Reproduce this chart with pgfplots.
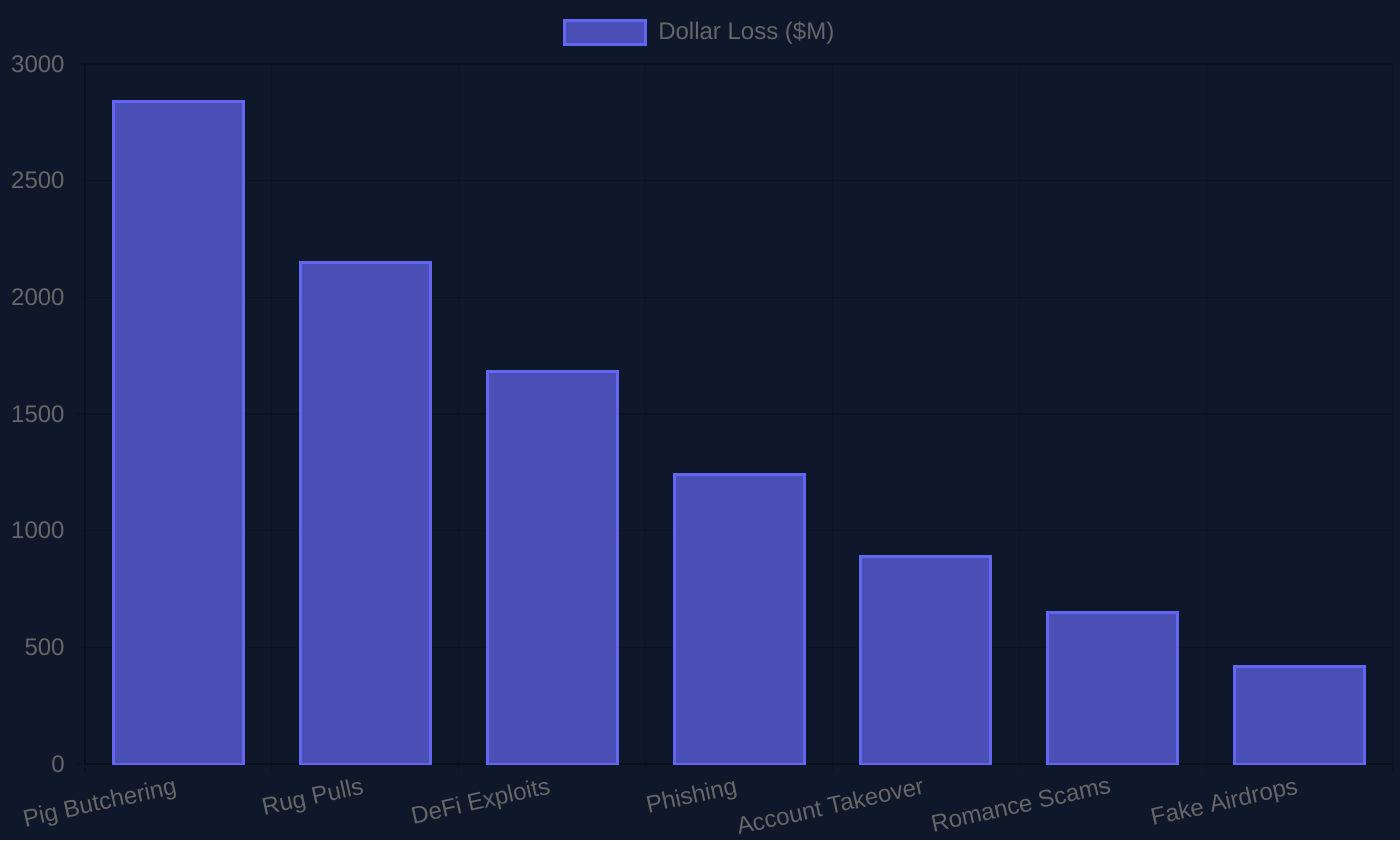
\documentclass[border=0pt]{standalone}
\usepackage{fontspec}
\setmainfont{Liberation Sans}
\usepackage{pgfplots}
\pgfplotsset{compat=1.18}

\definecolor{bg}{RGB}{15,23,42}
\definecolor{barfill}{RGB}{74,78,181}
\definecolor{barline}{RGB}{99,102,241}
\definecolor{txt}{RGB}{102,102,102}
\definecolor{gridc}{RGB}{12,19,35}
\definecolor{axisc}{RGB}{9,14,27}

\begin{document}
\begin{tikzpicture}
\fill[bg] (0,0) rectangle (700pt,420pt);
\useasboundingbox (0,0) rectangle (700pt,420pt);
\begin{axis}[
    at={(42.5pt,38pt)},
    anchor=south west,
    scale only axis,
    width=654pt,
    height=350pt,
    xmin=-0.5, xmax=6.5,
    ymin=0, ymax=3000,
    ybar,
    bar width=65pt,
    axis x line*=bottom,
    axis y line*=left,
    axis line style={-, draw=axisc, line width=0.6pt},
    xtick={0,1,2,3,4,5,6},
    xticklabels={Pig Butchering,Rug Pulls,DeFi Exploits,Phishing,Account Takeover,Romance Scams,Fake Airdrops},
    minor xtick={-0.5,0.5,1.5,2.5,3.5,4.5,5.5,6.5},
    ytick={0,500,1000,1500,2000,2500,3000},
    xminorgrids,
    ymajorgrids,
    grid style={draw=gridc, line width=0.6pt},
    minor grid style={draw=gridc, line width=0.6pt},
    tick align=outside,
    major tick length=4pt,
    minor tick length=4pt,
    tick style={draw=gridc, line width=0.6pt},
    major x tick style={draw=none},
    /pgf/number format/assume math mode=true,
    /pgf/number format/1000 sep={},
    ticklabel style={font=\fontsize{12}{14}\selectfont, text=txt},
    yticklabel style={anchor=east, inner sep=0pt, xshift=-6pt},
    xticklabel style={rotate=12.5, anchor=north east, inner sep=0pt, yshift=-1.5pt, xshift=-2.5pt},
    legend style={at={(axis description cs:0.4708,1.0457)}, anchor=center,
        draw=none, fill=none, font=\fontsize{12}{14}\selectfont, text=txt},
    legend image code/.code={\draw[fill=barfill, draw=barline, line width=1.5pt] (0pt,-6pt) rectangle (40.5pt,6pt);
        \path (44pt,0pt);},
]
\addplot[fill=barfill, draw=barline, line width=1.5pt] coordinates {
(0,2840)
(1,2150)
(2,1680)
(3,1240)
(4,890)
(5,650)
(6,420)
};
\addlegendentry{Dollar Loss (\$M)}
\end{axis}
\end{tikzpicture}
\end{document}
